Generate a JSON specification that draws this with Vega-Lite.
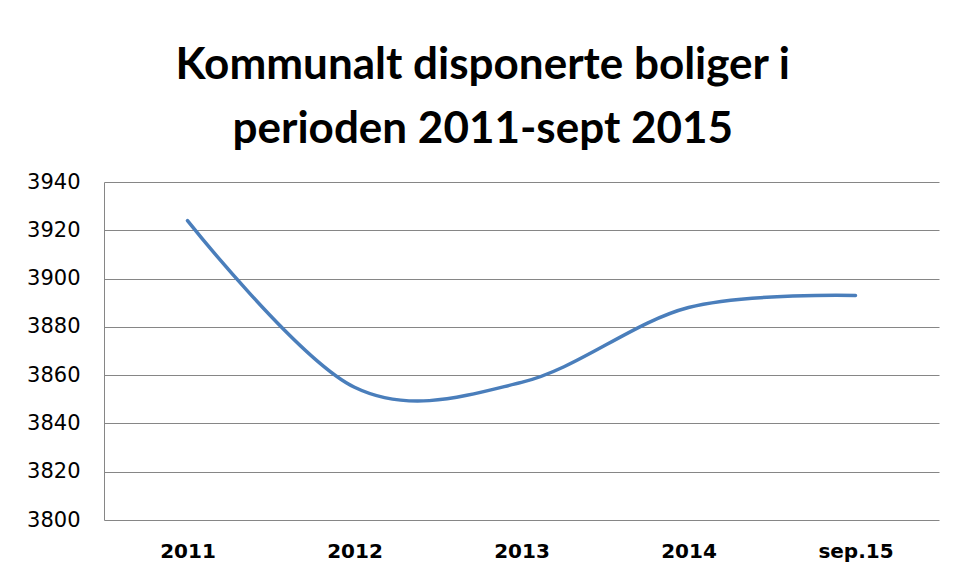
{
  "$schema": "https://vega.github.io/schema/vega-lite/v6.json",
  "autosize": "none",
  "width": 835,
  "height": 338,
  "padding": {"left": 104, "top": 182, "right": 19, "bottom": 61},
  "background": "white",
  "title": {
    "text": ["Kommunalt disponerte boliger i", "perioden 2011-sept 2015"],
    "font": "Lato",
    "fontSize": 44,
    "fontWeight": "bold",
    "color": "#000000",
    "lineHeight": 64,
    "anchor": "middle",
    "frame": "bounds",
    "offset": 19
  },
  "data": {
    "values": [
      {"periode": "2011", "boliger": 3924},
      {"periode": "2012", "boliger": 3855},
      {"periode": "2013", "boliger": 3857},
      {"periode": "2014", "boliger": 3888},
      {"periode": "sep.15", "boliger": 3893}
    ]
  },
  "mark": {
    "type": "line",
    "interpolate": "cardinal",
    "tension": 0,
    "color": "#4A7EBB",
    "strokeWidth": 3.5,
    "strokeCap": "round"
  },
  "encoding": {
    "x": {
      "field": "periode",
      "type": "ordinal",
      "sort": null,
      "scale": {"type": "point", "padding": 0.5},
      "axis": {
        "title": null,
        "labelAngle": 0,
        "ticks": false,
        "grid": false,
        "domain": false,
        "labelFont": "DejaVu Sans",
        "labelFontSize": 20,
        "labelFontWeight": "bold",
        "labelColor": "#000000",
        "labelPadding": 21
      }
    },
    "y": {
      "field": "boliger",
      "type": "quantitative",
      "scale": {"domain": [3800, 3940], "nice": false, "zero": false},
      "axis": {
        "title": null,
        "format": "d",
        "values": [3800, 3820, 3840, 3860, 3880, 3900, 3920, 3940],
        "ticks": false,
        "grid": true,
        "gridColor": "#868686",
        "gridWidth": 1,
        "domain": true,
        "domainColor": "#868686",
        "domainWidth": 1,
        "labelFont": "DejaVu Sans",
        "labelFontSize": 21,
        "labelColor": "#000000",
        "labelPadding": 24
      }
    }
  },
  "config": {
    "view": {"stroke": null}
  }
}
